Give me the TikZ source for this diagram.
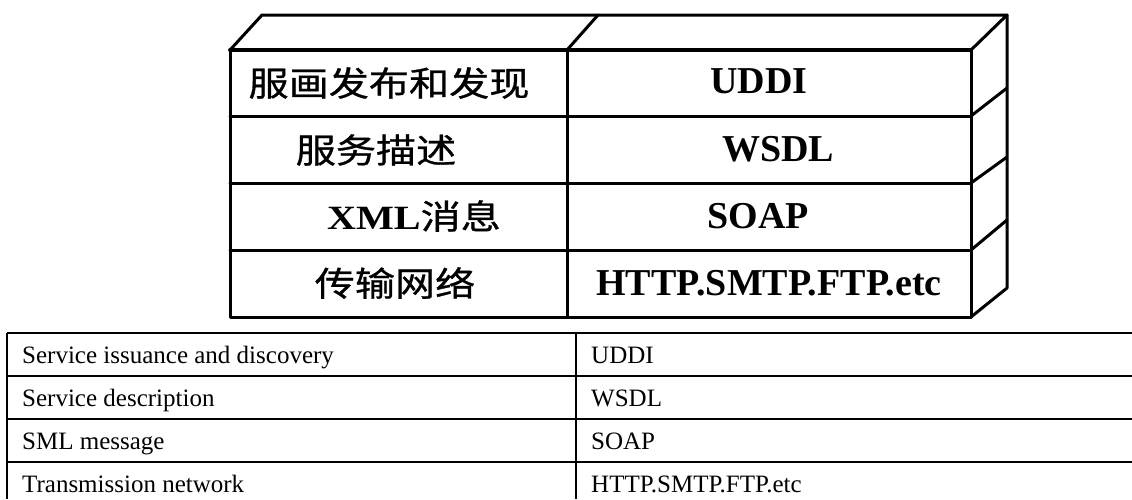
\documentclass[tikz,border=0pt]{standalone}
\usepackage{fontspec}
\usepackage{graphicx}
\setmainfont{Liberation Serif}
\newfontfamily\cjk[FakeBold=0.8]{Noto Sans CJK SC}
\newcommand\widecn[1]{\scalebox{1.18}[1]{#1}}
\tikzset{
  boxline/.style={line width=3pt, line join=round, line cap=round},
  tabline/.style={line width=2pt},
  cntext/.style={font=\cjk\fontsize{34}{40}\selectfont, inner sep=0pt},
  entext/.style={font=\bfseries\fontsize{38}{44}\selectfont, inner sep=0pt},
  tabtext/.style={font=\fontsize{25}{30}\selectfont, anchor=base west, inner sep=0pt},
}
\begin{document}
\begin{tikzpicture}[x=1pt,y=-1pt]
\useasboundingbox (0,0) rectangle (1132,499);
% ---- 3D stack: corners ----
\coordinate (fTL) at (230,50);
\coordinate (fTR) at (971,50);
\coordinate (fBL) at (230,317);
\coordinate (fBR) at (971,317);
\coordinate (fTM) at (567,50);
\coordinate (fBM) at (567,317);
\coordinate (bTL) at (262,15);
\coordinate (bTM) at (598,15);
\coordinate (bTR) at (1007,15);
\coordinate (bBR) at (1007,288);
% top face
\draw[boxline] (fTL) -- (bTL) -- (bTR) -- (fTR);
\draw[boxline] (fTM) -- (bTM);
% front face
\draw[boxline, line width=3.8pt] (fTL) -- (fTR);
\draw[boxline] (fTR) -- (fBR) -- (fBL) -- (fTL);
\draw[boxline] (fTM) -- (fBM);
\coordinate (l1) at (230,116); \coordinate (r1) at (971,116);
\coordinate (l2) at (230,183); \coordinate (r2) at (971,183);
\coordinate (l3) at (230,250); \coordinate (r3) at (971,250);
\draw[boxline] (l1) -- (r1);
\draw[boxline] (l2) -- (r2);
\draw[boxline] (l3) -- (r3);
% side face
\coordinate (s1) at (1007,88);
\coordinate (s2) at (1007,157);
\coordinate (s3) at (1007,220);
\draw[boxline] (bTR) -- (bBR) -- (fBR);
\draw[boxline] (r1) -- (s1);
\draw[boxline] (r2) -- (s2);
\draw[boxline] (r3) -- (s3);
% stack texts
\node[cntext] (c1) at (389,83) {\widecn{服画发布和发现}};
\node[cntext] (c2) at (376,150) {\widecn{服务描述}};
\node[cntext] (c3) at (414,216) {\widecn{{\fontspec{Liberation Serif}\bfseries XML}消息}};
\node[cntext] (c4) at (395,283) {\widecn{传输网络}};
\node[entext] (e1) at (759,81) {UDDI};
\node[entext] (e2) at (778,149) {WSDL};
\node[entext] (e3) at (758,216) {SOAP};
\node[entext] (e4) at (769,283) {HTTP.SMTP.FTP.etc};
% ---- table ----
\coordinate (t0l) at (7,333);   \coordinate (t0r) at (1132,333);
\coordinate (t1l) at (7,376);   \coordinate (t1r) at (1132,376);
\coordinate (t2l) at (7,419);   \coordinate (t2r) at (1132,419);
\coordinate (t3l) at (7,462);   \coordinate (t3r) at (1132,462);
\coordinate (tbl) at (7,499);
\coordinate (tdt) at (576,333); \coordinate (tdb) at (576,499);
\draw[tabline] (t0l) -- (t0r);
\draw[tabline] (t1l) -- (t1r);
\draw[tabline] (t2l) -- (t2r);
\draw[tabline] (t3l) -- (t3r);
\draw[tabline] (t0l) -- (tbl);
\draw[tabline] (tdt) -- (tdb);
\node[tabtext] (a1) at (22,363) {Service issuance and discovery};
\node[tabtext] (a2) at (22,406) {Service description};
\node[tabtext] (a3) at (22,449) {SML message};
\node[tabtext] (a4) at (22,492) {Transmission network};
\node[tabtext] (b1) at (591,363) {UDDI};
\node[tabtext] (b2) at (591,406) {WSDL};
\node[tabtext] (b3) at (591,449) {SOAP};
\node[tabtext] (b4) at (591,492) {HTTP.SMTP.FTP.etc};
\end{tikzpicture}
\end{document}
